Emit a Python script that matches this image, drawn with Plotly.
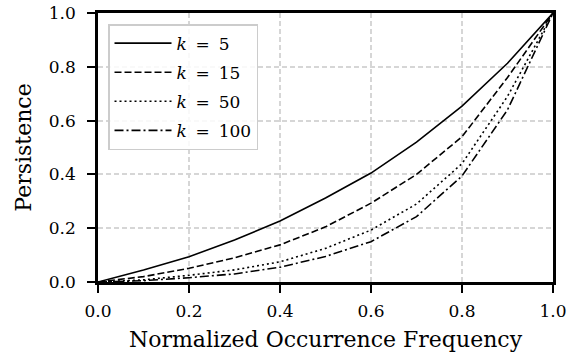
import plotly.graph_objects as go

x = [0.0, 0.1, 0.2, 0.3, 0.4, 0.5, 0.6, 0.7, 0.8, 0.9, 1.0]
k5 = [0.0, 0.045, 0.094, 0.156, 0.227, 0.312, 0.405, 0.52, 0.654, 0.813, 1.0]
k15 = [0.0, 0.02, 0.051, 0.09, 0.138, 0.205, 0.293, 0.40, 0.54, 0.76, 1.0]
k50 = [0.0, 0.008, 0.025, 0.045, 0.075, 0.125, 0.193, 0.29, 0.44, 0.69, 1.0]
k100 = [0.0, 0.005, 0.016, 0.03, 0.055, 0.095, 0.15, 0.243, 0.394, 0.64, 1.0]
names = ["<i>k</i>\u2009 = \u20095", "<i>k</i>\u2009 = \u200915",
         "<i>k</i>\u2009 = \u200950", "<i>k</i>\u2009 = \u2009100"]
series = [k5, k15, k50, k100]
dashes = ["solid", "7px,3px", "2px,3px", "9px,3px,2px,3px"]

FONT = "DejaVu Serif"

fig = go.Figure()
for i, (nm, ys, d) in enumerate(zip(names, series, dashes)):
    fig.add_trace(go.Scatter(x=x, y=ys, mode="lines", name=nm,
                             legendgroup=str(i),
                             line=dict(color="black", width=1.6, dash=d)))

axis_common = dict(range=[0, 1], dtick=0.2, tick0=0, tickformat=".1f",
                   showline=True, linecolor="black", linewidth=2.5, mirror=True,
                   ticks="outside", ticklen=8, tickwidth=2, tickcolor="black",
                   showgrid=True, gridcolor="#d6d6d6", griddash="5px,3px", gridwidth=1.5,
                   zeroline=False, automargin=False,
                   tickfont=dict(family=FONT, size=17, color="black"))

fig.update_xaxes(**axis_common, ticklabelstandoff=4,
                 title=dict(text="Normalized Occurrence Frequency",
                            font=dict(family=FONT, size=22, color="black"), standoff=12))
fig.update_yaxes(**axis_common, ticklabelstandoff=8,
                 title=dict(text="Persistence",
                            font=dict(family=FONT, size=22, color="black"), standoff=12))

fig.update_layout(
    width=579, height=356,
    margin=dict(l=98, r=26, t=13, b=74),
    plot_bgcolor="white", paper_bgcolor="white",
    font=dict(family=FONT, color="black"),
    legend=dict(x=0.022, y=0.959, xanchor="left", yanchor="top",
                bgcolor="rgba(255,255,255,0.85)", bordercolor="#cccccc", borderwidth=1.5,
                font=dict(family=FONT, size=17, color="black"),
                itemwidth=57,
                traceorder="grouped", tracegroupgap=4),
)

fig.write_html("out.html")
